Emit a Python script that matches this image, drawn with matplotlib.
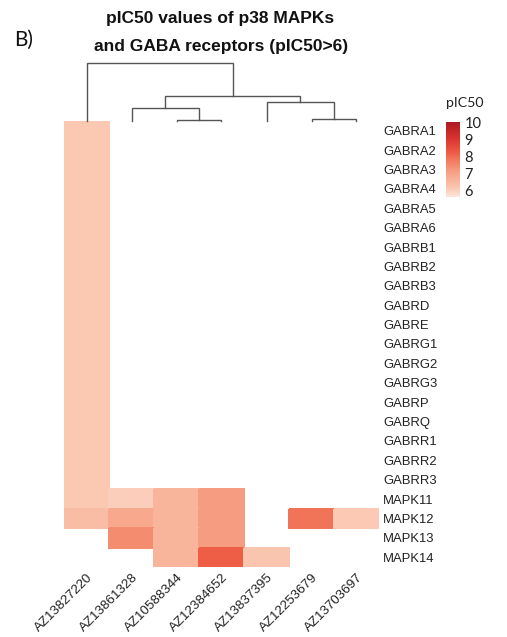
import numpy as np
import matplotlib
matplotlib.use("Agg")
import matplotlib.pyplot as plt
from matplotlib.colors import LinearSegmentedColormap

# ---------------- data ----------------
compounds = ["AZ13827220", "AZ13861328", "AZ10588344", "AZ12384652",
             "AZ13837395", "AZ12253679", "AZ13703697"]
targets = ["GABRA1", "GABRA2", "GABRA3", "GABRA4", "GABRA5", "GABRA6",
           "GABRB1", "GABRB2", "GABRB3", "GABRD", "GABRE", "GABRG1",
           "GABRG2", "GABRG3", "GABRP", "GABRQ", "GABRR1", "GABRR2",
           "GABRR3", "MAPK11", "MAPK12", "MAPK13", "MAPK14"]
nan = np.nan
# pIC50 per target (rows) for each compound (columns)
AZ13827220 = [6.13] * 19 + [6.13, 6.4, nan, nan]
AZ13861328 = [nan] * 19 + [6.0, 6.9, 7.45, nan]
AZ10588344 = [nan] * 19 + [6.6, 6.6, 6.6, 6.6]
AZ12384652 = [nan] * 19 + [7.15, 7.15, 7.15, 8.2]
AZ13837395 = [nan] * 19 + [nan, nan, nan, 6.2]
AZ12253679 = [nan] * 19 + [nan, 7.9, nan, nan]
AZ13703697 = [nan] * 19 + [nan, 6.1, nan, nan]
columns = [AZ13827220, AZ13861328, AZ10588344, AZ12384652,
           AZ13837395, AZ12253679, AZ13703697]
cbar_ticks = [6, 7, 8, 9, 10]
vmin, vmax = 5.6, 10.05

# column dendrogram merges: (left cluster, right cluster, height)
# leaves are column indices 0..6; new clusters are numbered 7, 8, ...
merges = [(2, 3, 0.8), (5, 6, 1.5), (1, 7, 13.0), (4, 8, 18.5),
          (9, 10, 25.0), (0, 11, 57.5)]

M = np.array(columns, dtype=float).T  # rows x cols

# ---------------- style ----------------
ramp = [(0.00, "#fde7de"), (0.11, "#fbc9b4"), (0.23, "#f8b49a"),
        (0.36, "#f69a7e"), (0.52, "#f17257"), (0.59, "#ee5c46"),
        (0.78, "#d9352f"), (1.00, "#ae1a22")]
cmap = LinearSegmentedColormap.from_list("pic50", ramp)

W, H = 507, 637
fig = plt.figure(figsize=(W / 100, H / 100), dpi=100)

def fx(px):
    return px / W

def fy(py):
    return 1 - py / H

hm_l, hm_r, hm_t, hm_b = 64, 379, 121, 567
ax = fig.add_axes([fx(hm_l), fy(hm_b), fx(hm_r - hm_l), (hm_b - hm_t) / H])
masked = np.ma.masked_invalid(M)
ax.pcolormesh(np.arange(M.shape[1] + 1), np.arange(M.shape[0] + 1), masked,
              cmap=cmap, vmin=vmin, vmax=vmax, edgecolor="face",
              linewidth=0.3)
ax.set_xlim(0, M.shape[1])
ax.set_ylim(M.shape[0], 0)
for s in ax.spines.values():
    s.set_visible(False)
ax.yaxis.tick_right()
ax.set_yticks(np.arange(M.shape[0]) + 0.5)
ax.set_yticklabels(targets, fontsize=9.4, family="Liberation Sans",
                   color="#222222")
ax.set_xticks(np.arange(M.shape[1]) + 0.5)
ax.set_xticklabels(compounds, fontsize=9.6, family="Liberation Sans",
                   rotation=45, ha="right", va="top", rotation_mode="anchor",
                   color="#222222")
ax.tick_params(length=0, pad=3)
ax.tick_params(axis="x", pad=3)

# ---------------- dendrogram ----------------
d_top = 63
dax = fig.add_axes([fx(hm_l), fy(hm_t), fx(hm_r - hm_l), (hm_t - d_top) / H])
dax.set_xlim(0, M.shape[1])
dax.set_ylim(0, max(m[2] for m in merges))
dax.axis("off")
pos = {i: i + 0.5 for i in range(M.shape[1])}
hgt = {i: 0.0 for i in range(M.shape[1])}
nid = M.shape[1]
for a, b, h in merges:
    xa, xb = pos[a], pos[b]
    dax.plot([xa, xa, xb, xb], [hgt[a], h, h, hgt[b]], color="#555555",
             lw=1.0, clip_on=False, solid_joinstyle="miter")
    pos[nid] = (xa + xb) / 2
    hgt[nid] = h
    nid += 1

# ---------------- colorbar ----------------
cax = fig.add_axes([fx(446), fy(197), fx(13), 75 / H])
grad = np.linspace(vmin, vmax, 256).reshape(-1, 1)
cax.imshow(grad, aspect="auto", cmap=cmap, vmin=vmin, vmax=vmax,
           origin="lower", extent=[0, 1, vmin, vmax])
cax.set_xticks([])
cax.yaxis.tick_right()
cax.set_yticks(cbar_ticks)
cax.set_yticklabels([str(t) for t in cbar_ticks], fontsize=10.5,
                    family="Lato", color="#222222")
cax.tick_params(length=0, pad=4)
for s in cax.spines.values():
    s.set_visible(False)
fig.text(fx(446), fy(103), "pIC50", fontsize=10.2, family="Lato",
         color="#222222", ha="left", va="center")

# ---------------- titles ----------------
fig.text(fx(220), fy(19), "pIC50 values of p38 MAPKs", fontsize=12.5,
         fontweight="bold", family="Liberation Sans", ha="center",
         va="center", color="#111111")
fig.text(fx(221), fy(46), "and GABA receptors (pIC50>6)", fontsize=12.5,
         fontweight="bold", family="Liberation Sans", ha="center",
         va="center", color="#111111")
fig.text(fx(14), fy(40), "B)", fontsize=15, family="Lato", ha="left",
         va="center", color="#111111")

fig.savefig("out.png", dpi=100)
